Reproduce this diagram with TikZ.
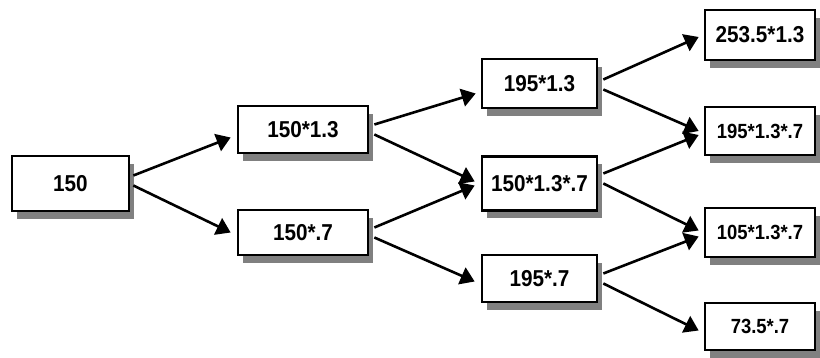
\documentclass[tikz,border=0pt]{standalone}
\usepackage{fontspec}
\setmainfont{Liberation Sans}
\usetikzlibrary{arrows.meta,shadows}
\newcommand\narrowtxt[1]{\scalebox{0.9}[1]{#1}}
\tikzset{
 box/.style={draw, line width=2.7pt, fill=white, inner sep=0pt,
   font=\fontsize{23}{23}\selectfont\bfseries,
   drop shadow={shadow xshift=5pt, shadow yshift=-8pt, fill=black!50, opacity=1}},
 smallbox/.style={box, font=\fontsize{20.5}{20.5}\selectfont\bfseries},
 link/.style={line width=2.6pt, -{Triangle[length=14pt,width=18pt]}}
}
\begin{document}
\begin{tikzpicture}[x=1pt,y=1pt]
\useasboundingbox (0,0) rectangle (820,358);
\node[box, minimum width=117pt, minimum height=55pt] (n0) at (70.5,174.5) {\narrowtxt{150}};
\node[box, minimum width=130pt, minimum height=47pt] (a) at (303,228.5) {\narrowtxt{150*1.3}};
\node[box, minimum width=130pt, minimum height=45pt] (b) at (303,125.5) {\narrowtxt{150*.7}};
\node[box, minimum width=115pt, minimum height=49pt] (c) at (539.5,274.5) {\narrowtxt{195*1.3}};
\node[box, minimum width=115pt, minimum height=54pt] (d) at (539.5,174.5) {\narrowtxt{150*1.3*.7}};
\node[box, minimum width=115pt, minimum height=47pt] (e) at (539.5,79.5) {\narrowtxt{195*.7}};
\node[box, minimum width=110pt, minimum height=50pt] (f) at (760,323) {\narrowtxt{253.5*1.3}};
\node[smallbox, minimum width=110pt, minimum height=48pt] (g) at (760,227) {\narrowtxt{195*1.3*.7}};
\node[smallbox, minimum width=110pt, minimum height=49pt] (h) at (760,125.5) {\narrowtxt{105*1.3*.7}};
\node[smallbox, minimum width=110pt, minimum height=47pt] (i) at (760,31.5) {\narrowtxt{73.5*.7}};
\draw[link] ([xshift=3pt,yshift=8pt]n0.east) -- ([xshift=-6pt,yshift=-8pt]a.west);
\draw[link] ([xshift=3pt,yshift=-2pt]n0.east) -- ([xshift=-6pt,yshift=0pt]b.west);
\draw[link] ([xshift=5pt,yshift=5pt]a.east) -- ([xshift=-5pt,yshift=-10pt]c.west);
\draw[link] ([xshift=5pt,yshift=-5pt]a.east) -- ([xshift=-6pt,yshift=2pt]d.west);
\draw[link] ([xshift=5pt,yshift=5pt]b.east) -- ([xshift=-6pt,yshift=-2pt]d.west);
\draw[link] ([xshift=5pt,yshift=-5pt]b.east) -- ([xshift=-6pt,yshift=-3pt]e.west);
\draw[link] ([xshift=5pt,yshift=4pt]c.east) -- ([xshift=-5pt,yshift=-2pt]f.west);
\draw[link] ([xshift=5pt,yshift=-6pt]c.east) -- ([xshift=-5pt,yshift=0pt]g.west);
\draw[link] ([xshift=5pt,yshift=10pt]d.east) -- ([xshift=-5pt,yshift=-4pt]g.west);
\draw[link] ([xshift=5pt,yshift=0pt]d.east) -- ([xshift=-5pt,yshift=2pt]h.west);
\draw[link] ([xshift=5pt,yshift=5pt]e.east) -- ([xshift=-5pt,yshift=-4pt]h.west);
\draw[link] ([xshift=5pt,yshift=-5pt]e.east) -- ([xshift=-5pt,yshift=-4pt]i.west);
\end{tikzpicture}
\end{document}
